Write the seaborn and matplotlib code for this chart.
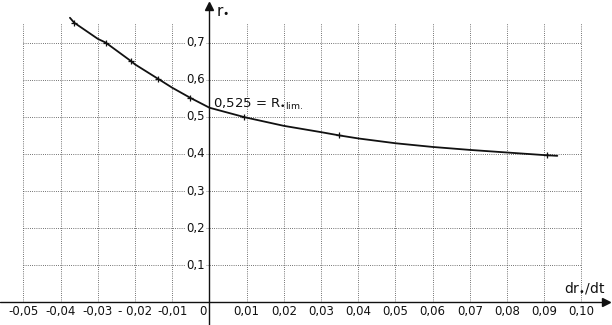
import numpy as np
import seaborn as sns
import matplotlib.pyplot as plt

# curve
curve_x = [-0.0375, -0.0364, -0.030, -0.0279, -0.0211, -0.020, -0.0138, -0.010, -0.0052, 0.0,
           0.0096, 0.020, 0.030, 0.035, 0.040, 0.050, 0.060, 0.070, 0.080, 0.090, 0.0935]
curve_y = [0.768, 0.755, 0.711, 0.701, 0.651, 0.642, 0.603, 0.579, 0.552, 0.525,
           0.499, 0.476, 0.459, 0.450, 0.442, 0.429, 0.419, 0.411, 0.404, 0.397, 0.395]

# measured points (small crosses on the curve)
pts_x = [-0.0364, -0.0279, -0.0211, -0.0138, -0.0052, 0.0092, 0.0349, 0.0907]
pts_y = [0.755, 0.701, 0.651, 0.603, 0.552, 0.499, 0.450, 0.396]

x_ticks = [-0.05, -0.04, -0.03, -0.02, -0.01, 0.01, 0.02, 0.03, 0.04, 0.05, 0.06, 0.07, 0.08, 0.09, 0.10]
x_labels = ["-0,05", "-0,04", "-0,03", "- 0,02", "-0,01", "0,01", "0,02", "0,03", "0,04",
            "0,05", "0,06", "0,07", "0,08", "0,09", "0,10"]
y_ticks = [0.1, 0.2, 0.3, 0.4, 0.5, 0.6, 0.7]
y_labels = ["0,1", "0,2", "0,3", "0,4", "0,5", "0,6", "0,7"]

sns.set_style("white")
plt.rcParams['font.family'] = ['DejaVu Sans']
plt.rcParams['mathtext.fontset'] = 'dejavusans'

fig = plt.figure(figsize=(6.12, 3.25), dpi=100)
ax = fig.add_axes([0, 0, 1, 1])
ax.set_xlim(-0.0563, 0.1082)
ax.set_ylim(-0.062, 0.816)
ax.axis('off')

ink = '#111111'
grid_kw = dict(color='#444444', lw=0.6, ls=(0, (1, 1.6)), zorder=1)
grid_top = 0.755
ax.vlines(x_ticks, 0, grid_top, **grid_kw)
ax.hlines(y_ticks, -0.05, 0.10, **grid_kw)

# axes with arrows
ax.plot([-0.0563, 0.106], [0, 0], color=ink, lw=1.0, zorder=3)
ax.plot([0, 0], [-0.062, 0.795], color=ink, lw=1.0, zorder=3)
ax.plot([0.1065], [0], marker='>', color=ink, ms=6, zorder=4, clip_on=False)
ax.plot([0], [0.80], marker='^', color=ink, ms=6, zorder=4, clip_on=False)

sns.lineplot(x=curve_x, y=curve_y, ax=ax, color=ink, lw=1.3, sort=False, zorder=5)
sns.scatterplot(x=pts_x, y=pts_y, ax=ax, marker='+', s=22, color=ink, linewidth=0.9, zorder=6)

fs = 8.5
for t, lab in zip(x_ticks, x_labels):
    ax.text(t, -0.008, lab, ha='center', va='top', fontsize=fs, color=ink, zorder=7)
ax.text(-0.0008, -0.008, "0", ha='right', va='top', fontsize=fs, color=ink, zorder=7)
for t, lab in zip(y_ticks, y_labels):
    ax.text(-0.0012, t, lab, ha='right', va='center', fontsize=fs, color=ink, zorder=7,
            bbox=dict(facecolor='white', edgecolor='none', pad=1.0))

ax.text(0.0018, 0.79, "r$_{•}$", ha='left', va='center', fontsize=11, color=ink)
ax.text(0.1065, 0.017, "dr$_{•}$/dt", ha='right', va='bottom', fontsize=10, color=ink)
ax.text(0.001, 0.524, r"0,525 = R$_{•\mathrm{lim.}}$", ha='left', va='baseline',
        fontsize=9.5, color=ink, zorder=7)

plt.savefig("out.png", dpi=100)
